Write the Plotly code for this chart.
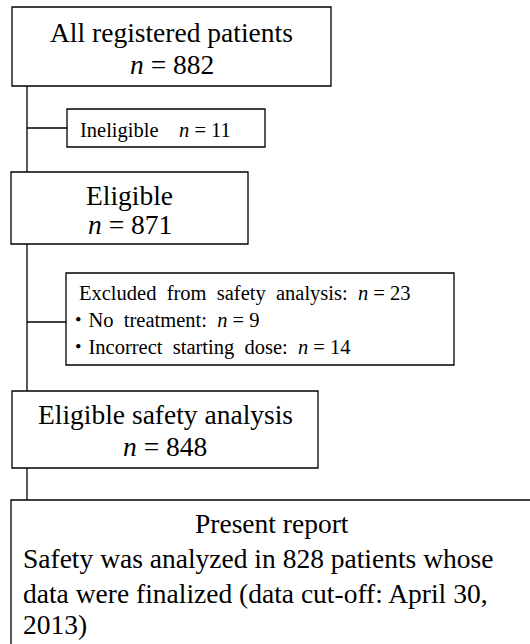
import plotly.graph_objects as go

# ---- data ----
stage_labels = ["All registered patients", "Eligible", "Eligible safety analysis"]
stage_n = [882, 871, 848]
ineligible_label = "Ineligible"
ineligible_n = 11
excluded_label = "Excluded from safety analysis"
excluded_n = 23
excluded_reasons = ["No treatment", "Incorrect starting dose"]
excluded_reason_n = [9, 14]
report_title = "Present report"
analyzed_n = 828
cutoff_date = "April 30, 2013"

# ---- layout geometry (pixels) ----
W, H = 530, 644
FONT = "Liberation Serif, Times New Roman, Noto Sans CJK JP, serif"
BIG = 27.5
SMALL = 20.5
LW = 1.3

stage_boxes = [(12, 331, 7, 86), (11, 248, 172, 244), (12, 318, 391, 468)]
stage_baselines = [(41.7, 73), (204, 233), (423, 455)]
side_boxes = [(67, 265, 109, 147), (66, 454, 273, 365)]
report_box = (11, 545, 500, 660)
trunk_x = 27

shapes = []
def rect(x0, x1, y0, y1):
    shapes.append(dict(type="rect", xref="x", yref="y", x0=x0, x1=x1, y0=y0, y1=y1,
                       line=dict(color="black", width=LW), fillcolor="white", layer="below"))
def line(x0, y0, x1, y1):
    shapes.append(dict(type="line", xref="x", yref="y", x0=x0, y0=y0, x1=x1, y1=y1,
                       line=dict(color="black", width=LW), layer="below"))

# connectors
line(trunk_x, 86, trunk_x, 172)
line(trunk_x, 128, 67, 128)
line(trunk_x, 244, trunk_x, 391)
line(trunk_x, 322, 66, 322)
line(trunk_x, 468, trunk_x, 500)

for b in stage_boxes + side_boxes:
    rect(*b)
rect(*report_box)

ann = []
def txt(x, baseline, s, size, xanchor="center"):
    ann.append(dict(x=x, y=baseline - 0.32 * size, xref="x", yref="y", text=s, showarrow=False,
                    xanchor=xanchor, yanchor="middle",
                    font=dict(family=FONT, size=size, color="black")))

for (x0, x1, y0, y1), (b1, b2), lab, n in zip(stage_boxes, stage_baselines, stage_labels, stage_n):
    cx = (x0 + x1) / 2
    txt(cx, b1, lab, BIG)
    txt(cx, b2, f"<i>n</i> = {n}", BIG)

txt(78, 137, f"{ineligible_label}\u00a0\u00a0\u00a0 <i>n</i> = {ineligible_n}", SMALL, "left")
txt(77, 300, "\u00a0 ".join(excluded_label.split(" ")) + f":\u00a0 <i>n</i> = {excluded_n}", SMALL, "left")
for i, (r, n) in enumerate(zip(excluded_reasons, excluded_reason_n)):
    txt(66, [327, 354][i], "\u30fb" + "\u00a0 ".join(r.split(" ")) + f":\u00a0 <i>n</i> = {n}", SMALL, "left")

txt(272, 532, report_title, BIG)
txt(21, 567, f"Safety was analyzed in {analyzed_n} patients whose", BIG, "left")
txt(21, 602, f"data were finalized (data cut-off: {cutoff_date.split(' 2013')[0]}", BIG, "left")
txt(21, 633, cutoff_date.split(", ")[1] + ")", BIG, "left")

fig = go.Figure()
fig.add_trace(go.Scatter(x=[0, W], y=[0, H], mode="markers", marker=dict(opacity=0), hoverinfo="skip",
                         showlegend=False))
fig.update_layout(
    width=W, height=H, margin=dict(l=0, r=0, t=0, b=0),
    paper_bgcolor="white", plot_bgcolor="white",
    xaxis=dict(range=[0, W], visible=False, fixedrange=True),
    yaxis=dict(range=[H, 0], visible=False, fixedrange=True),
    shapes=shapes, annotations=ann, showlegend=False,
)
fig.write_html("out.html", config={"displayModeBar": False},
               post_script="document.body.style.margin='0';document.body.style.overflow='hidden';")
